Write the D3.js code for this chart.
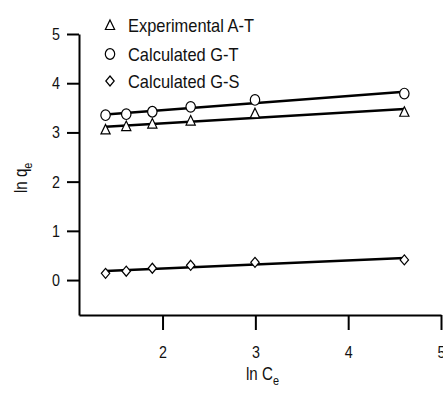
<!DOCTYPE html>
<html>
<head>
<meta charset="utf-8">
<script src="https://cdn.jsdelivr.net/npm/d3@7"></script>
<style>
  html, body { margin: 0; padding: 0; background: #fff; }
  svg { display: block; }
</style>
</head>
<body>
<svg id="chart" width="443" height="395"></svg>
<script>
// ---- data ----
const lnCe = [1.386, 1.609, 1.89, 2.303, 2.996, 4.605];
const expAT = [3.06, 3.13, 3.18, 3.24, 3.39, 3.42];
const calcGT = [3.35, 3.37, 3.42, 3.52, 3.66, 3.79];
const calcGS = [0.136, 0.18, 0.24, 0.30, 0.36, 0.41];
const seriesNames = ["Experimental A-T", "Calculated G-T", "Calculated G-S"];
const seriesShapes = ["triangle", "circle", "diamond"];
const xTicks = [2, 3, 4, 5];
const yTicks = [0, 1, 2, 3, 4, 5];

const FONT = '"Liberation Sans", Arial, Helvetica, sans-serif';
function condense(sel, k) {
  sel.each(function () {
    const w = this.getComputedTextLength();
    d3.select(this).attr("textLength", w * k).attr("lengthAdjust", "spacingAndGlyphs");
  });
}

const svg = d3.select("#chart");
const x = d3.scaleLinear().domain([1.1, 5]).range([79, 441]);
const y = d3.scaleLinear().domain([-0.71, 5]).range([315, 34]);

// ---- axes ----
const gx = svg.append("g").attr("transform", `translate(0,${y.range()[0]})`)
  .call(d3.axisBottom(x).tickValues(xTicks).tickFormat(d3.format("d"))
    .tickSize(15).tickSizeOuter(0).tickPadding(16));
const gy = svg.append("g").attr("transform", `translate(${x.range()[0]},0)`)
  .call(d3.axisLeft(y).tickValues(yTicks).tickFormat(d3.format("d"))
    .tickSize(12).tickSizeOuter(0).tickPadding(7));
[gx, gy].forEach(g => {
  g.select(".domain").attr("stroke", "#000").attr("stroke-width", 2);
  g.selectAll(".tick line").attr("stroke", "#000").attr("stroke-width", 2);
  g.selectAll(".tick text").attr("fill", "#111").attr("font-family", FONT).attr("font-size", 17);
  condense(g.selectAll(".tick text"), 0.84);
});

// ---- symbols ----
function drawSymbol(g, shape, cx, cy) {
  if (shape === "circle") {
    g.append("ellipse").attr("cx", cx).attr("cy", cy).attr("rx", 4.7).attr("ry", 5.3)
      .attr("fill", "#fff").attr("stroke", "#000").attr("stroke-width", 1.2);
  } else if (shape === "triangle") {
    g.append("path").attr("d", `M${cx},${cy - 5} L${cx + 4.6},${cy + 4.5} L${cx - 4.6},${cy + 4.5} Z`)
      .attr("fill", "#fff").attr("stroke", "#000").attr("stroke-width", 1.2);
  } else {
    g.append("path").attr("d", `M${cx},${cy - 5} L${cx + 4.2},${cy} L${cx},${cy + 5} L${cx - 4.2},${cy} Z`)
      .attr("fill", "#fff").attr("stroke", "#000").attr("stroke-width", 1.2);
  }
}

// ---- series with least-squares fit lines ----
const seriesVals = [expAT, calcGT, calcGS];
function fit(xs, ys) {
  const mx = d3.mean(xs), my = d3.mean(ys);
  let sxy = 0, sxx = 0;
  xs.forEach((v, i) => { sxy += (v - mx) * (ys[i] - my); sxx += (v - mx) * (v - mx); });
  const b = sxy / sxx; return { a: my - b * mx, b };
}
const lineGen = d3.line().x(d => x(d[0])).y(d => y(d[1]));
seriesVals.forEach((vals) => {
  const f = fit(lnCe, vals);
  const x0 = d3.min(lnCe), x1 = d3.max(lnCe);
  svg.append("path").datum([[x0, f.a + f.b * x0], [x1, f.a + f.b * x1]])
    .attr("d", lineGen).attr("fill", "none").attr("stroke", "#000").attr("stroke-width", 2.5);
});
seriesVals.forEach((vals, si) => {
  const g = svg.append("g");
  vals.forEach((v, i) => drawSymbol(g, seriesShapes[si], x(lnCe[i]), y(v)));
});

// ---- legend ----
const legendY = [25, 54, 81];
seriesNames.forEach((name, i) => {
  const g = svg.append("g");
  drawSymbol(g, seriesShapes[i], 110, legendY[i]);
  const t = g.append("text").attr("x", 128).attr("y", legendY[i] + 7)
    .attr("font-family", FONT).attr("font-size", 19).attr("fill", "#111").text(name);
  condense(t, 0.865);
});

// ---- axis titles ----
const xt = svg.append("text").attr("transform", "translate(246,380) scale(0.84,1)")
  .attr("font-family", FONT).attr("font-size", 18).attr("fill", "#111");
xt.append("tspan").text("ln C");
xt.append("tspan").attr("dy", 5).attr("font-size", 13).text("e");

const yt = svg.append("text").attr("transform", "translate(27,193) rotate(-90) scale(0.84,1)")
  .attr("font-family", FONT).attr("font-size", 18).attr("fill", "#111");
yt.append("tspan").text("ln q");
yt.append("tspan").attr("dy", 5).attr("font-size", 13).text("e");
</script>
</body>
</html>
